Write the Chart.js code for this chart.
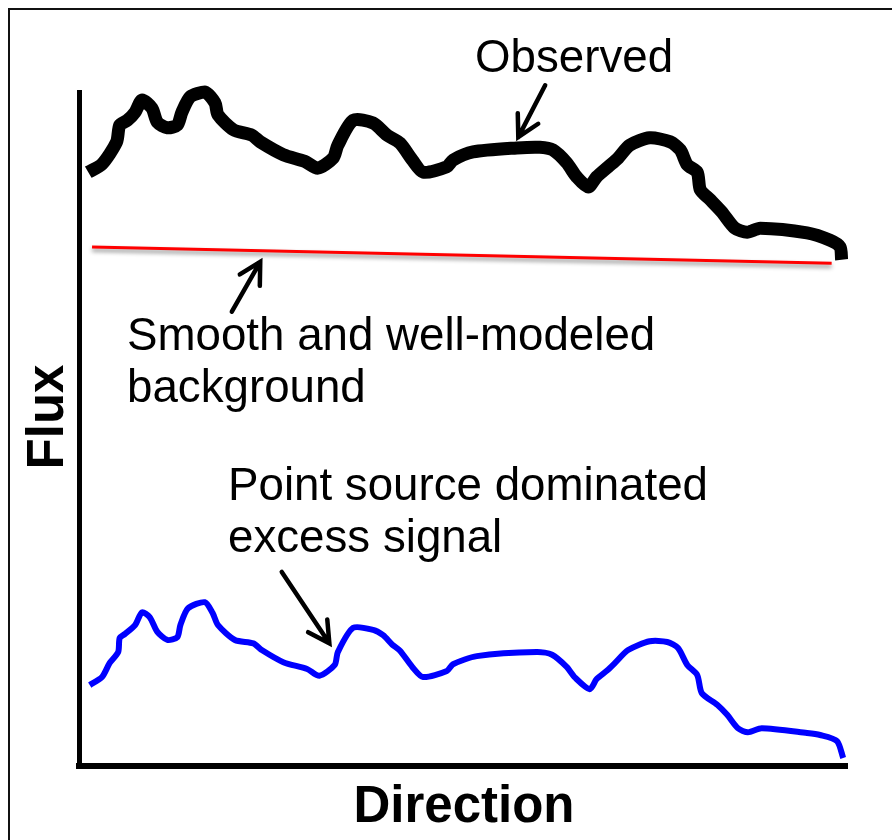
<!DOCTYPE html>
<html>
    <head>
        <meta charset="utf-8" />
        <script src="https://cdn.jsdelivr.net/npm/chart.js@4.4.0/dist/chart.umd.min.js"></script>
        <style>
         html, body {
             margin: 0;
             padding: 0;
             background: #fff;
         }
         #wrap {
             width: 892px;
             height: 840px;
         }
        </style>
        <title>Flux vs Direction</title>
    </head>
    <body>
        <div id="wrap"><canvas id="fluxChart"></canvas></div>
        <script>
            // observed flux (black, thick)
            var obsDir  = [1.2, 3.0, 4.9, 5.3, 6.3, 7.3, 8.2, 9.5, 10.2, 11.5, 12.8, 13.4, 14.5, 16.4, 17.7, 18.1, 20.1, 22.5, 23.6, 26.6,
                           29.4, 31.1, 33.1, 33.7, 35.7, 38.3, 40.1, 41.8, 43.4, 44.8, 47.9, 48.7, 51.3, 57.0, 60.0, 61.7, 63.5, 64.8, 66.3, 67.4,
                           68.9, 70.2, 71.7, 74.3, 77.0, 78.3, 79.2, 80.5, 80.9, 82.2, 83.7, 85.4, 87.0, 88.7, 94.8, 97.8, 99.1, 99.3];
            var obsFlux = [88.1, 89.3, 92.6, 95.1, 95.8, 97.0, 98.8, 97.6, 95.5, 94.7, 95.1, 97.0, 99.3, 100.0, 98.4, 96.6, 94.4, 93.6, 92.6, 90.7,
                           89.7, 88.7, 90.2, 92.1, 95.8, 95.4, 93.6, 92.4, 89.9, 88.1, 88.9, 89.9, 91.1, 91.7, 91.8, 91.4, 89.5, 87.4, 85.9, 87.4,
                           88.9, 90.2, 92.1, 93.2, 92.6, 91.4, 89.2, 88.1, 85.5, 84.0, 82.2, 79.8, 79.2, 79.8, 79.1, 78.0, 77.0, 75.1];

            // smooth background model (red)
            var bgDir  = [1.7, 98.0];
            var bgFlux = [77.0, 74.6];

            // excess signal (blue)
            var excDir  = [1.4, 3.0, 4.0, 5.1, 5.3, 6.0, 7.3, 8.2, 9.2, 10.2, 11.5, 12.8, 13.2, 14.2, 16.4, 17.4, 18.1, 20.3, 22.7, 23.8,
                           26.6, 29.7, 31.3, 33.3, 33.7, 35.7, 38.3, 39.6, 40.8, 41.8, 43.4, 44.8, 47.9, 48.7, 51.8, 59.6, 61.6, 63.5, 64.6, 66.5,
                           67.4, 68.8, 69.8, 71.5, 74.3, 76.6, 78.0, 79.2, 80.5, 81.1, 83.1, 84.4, 85.8, 87.1, 88.9, 94.8, 96.5, 98.7, 99.5];
            var excFlux = [12.0, 13.2, 15.3, 16.9, 19.0, 19.6, 20.9, 22.8, 22.1, 19.9, 18.7, 19.1, 20.9, 23.4, 24.3, 22.7, 20.9, 18.7, 18.2, 17.2,
                           15.4, 14.4, 13.4, 15.0, 16.9, 20.5, 20.2, 19.4, 18.0, 17.1, 14.7, 13.2, 14.1, 15.1, 16.3, 16.9, 16.5, 14.7, 13.1, 11.4,
                           12.9, 14.2, 15.3, 17.2, 18.5, 18.4, 17.5, 15.0, 13.5, 10.8, 9.1, 7.6, 5.6, 5.0, 5.6, 4.9, 4.6, 3.7, 1.2];

            // annotations: text lines and arrows (tail -> tip, in data units)
            var notes = [
                { lines: ["Observed"], x: 475, y: 72 },
                { lines: ["Smooth and well-modeled", "background"], x: 127, y: 350 },
                { lines: ["Point source dominated", "excess signal"], x: 228, y: 500 }
            ];
            var arrows = [
                { from: [60.7, 101.0], to: [57.2, 93.3] },
                { from: [19.9, 67.4], to: [23.6, 74.8] },
                { from: [26.4, 28.8], to: [32.6, 18.2] }
            ];

            function toPoints(xs, ys) {
                var pts = [];
                for (var i = 0; i < xs.length; i++) {
                    pts.push({ x: xs[i], y: ys[i] });
                }
                return pts;
            }

            // frame lines, red line shadow, texts and arrows
            var decor = {
                id: 'decor',
                beforeDraw: function(chart) {
                    var ctx = chart.ctx;
                    ctx.save();
                    ctx.strokeStyle = '#111';
                    ctx.lineWidth = 2;
                    ctx.beginPath();
                    ctx.moveTo(892, 9);
                    ctx.lineTo(9, 9);
                    ctx.lineTo(9, 840);
                    ctx.stroke();
                    ctx.restore();
                },
                beforeDatasetDraw: function(chart, args) {
                    if (args.index === 1) {
                        var ctx = chart.ctx;
                        ctx.save();
                        ctx.shadowColor = 'rgba(0,0,0,0.45)';
                        ctx.shadowBlur = 4;
                        ctx.shadowOffsetY = 3;
                    }
                },
                afterDatasetDraw: function(chart, args) {
                    if (args.index === 1) {
                        chart.ctx.restore();
                    }
                },
                afterDraw: function(chart) {
                    var ctx = chart.ctx;
                    var xs = chart.scales.x, ys = chart.scales.y;
                    ctx.save();
                    ctx.fillStyle = '#000';
                    ctx.font = '45.7px "Liberation Sans", Arial, sans-serif';
                    ctx.textAlign = 'left';
                    ctx.textBaseline = 'alphabetic';
                    notes.forEach(function(n) {
                        n.lines.forEach(function(t, i) {
                            ctx.fillText(t, n.x, n.y + i * 52);
                        });
                    });

                    // axis titles
                    ctx.font = 'bold 51px "Liberation Sans", Arial, sans-serif';
                    ctx.textAlign = 'center';
                    ctx.fillText('Direction', 464, 822);
                    ctx.save();
                    ctx.translate(63, 417);
                    ctx.rotate(-Math.PI / 2);
                    ctx.fillText('Flux', 0, 0);
                    ctx.restore();

                    // arrows
                    ctx.strokeStyle = '#000';
                    ctx.lineWidth = 4.5;
                    ctx.lineCap = 'round';
                    ctx.lineJoin = 'miter';
                    arrows.forEach(function(a) {
                        var x0 = xs.getPixelForValue(a.from[0]), y0 = ys.getPixelForValue(a.from[1]);
                        var x1 = xs.getPixelForValue(a.to[0]), y1 = ys.getPixelForValue(a.to[1]);
                        var ang = Math.atan2(y1 - y0, x1 - x0);
                        var len = 24, spread = 0.5;
                        ctx.beginPath();
                        ctx.moveTo(x0, y0);
                        ctx.lineTo(x1, y1);
                        ctx.moveTo(x1 - len * Math.cos(ang - spread), y1 - len * Math.sin(ang - spread));
                        ctx.lineTo(x1, y1);
                        ctx.lineTo(x1 - len * Math.cos(ang + spread), y1 - len * Math.sin(ang + spread));
                        ctx.stroke();
                    });
                    ctx.restore();
                }
            };

            new Chart(document.getElementById('fluxChart'), {
                type: 'line',
                data: {
                    datasets: [
                        {
                            label: 'Observed',
                            data: toPoints(obsDir, obsFlux),
                            borderColor: '#000',
                            borderWidth: 13,
                            borderCapStyle: 'butt',
                            borderJoinStyle: 'round',
                            pointRadius: 0,
                            tension: 0.25,
                            clip: false
                        },
                        {
                            label: 'Background',
                            data: toPoints(bgDir, bgFlux),
                            borderColor: '#ff0000',
                            borderWidth: 3,
                            pointRadius: 0,
                            tension: 0,
                            clip: false
                        },
                        {
                            label: 'Excess',
                            data: toPoints(excDir, excFlux),
                            borderColor: '#0000ff',
                            borderWidth: 6,
                            borderJoinStyle: 'round',
                            pointRadius: 0,
                            tension: 0.25,
                            clip: false
                        }
                    ]
                },
                options: {
                    responsive: true,
                    maintainAspectRatio: false,
                    animation: false,
                    layout: {
                        padding: { left: 79, right: 45, top: 92, bottom: 74 }
                    },
                    plugins: {
                        legend: { display: false },
                        tooltip: { enabled: false }
                    },
                    scales: {
                        x: {
                            type: 'linear',
                            min: 0,
                            max: 100,
                            grid: { display: false, drawTicks: false },
                            ticks: { display: false },
                            border: { display: true, color: '#000', width: 6 }
                        },
                        y: {
                            type: 'linear',
                            min: 0,
                            max: 100,
                            grid: { display: false, drawTicks: false },
                            ticks: { display: false },
                            border: { display: true, color: '#000', width: 5 }
                        }
                    }
                },
                plugins: [decor]
            });
        </script>
    </body>
</html>
